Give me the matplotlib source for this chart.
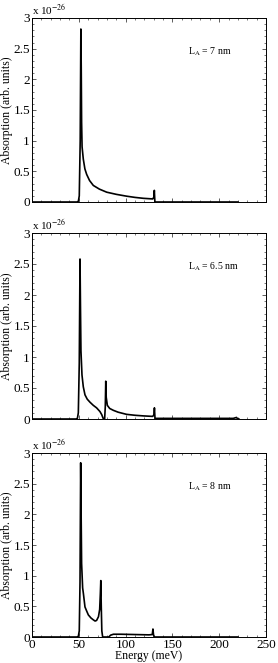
import matplotlib
matplotlib.use("Agg")
import matplotlib.pyplot as plt
from matplotlib.ticker import MultipleLocator

plt.rcParams["font.family"] = ["Liberation Serif", "DejaVu Serif"]
plt.rcParams["mathtext.fontset"] = "stix"

# absorption in units of 1e-26 (arb. units), energy in meV
e_7 = [0, 48, 49.5, 50.5, 51.5, 52.2, 52.6, 53.0, 53.5, 54.8, 56.5, 58.4, 61.5,
       65.5, 72, 79.8, 90, 101, 110, 119, 129, 130.2, 130.7, 131.3, 140, 220]
a_7 = [0, 0, 0.01, 0.1, 1.0, 2.82, 2.2, 1.3, 0.9, 0.7, 0.54, 0.45, 0.35,
       0.27, 0.21, 0.16, 0.125, 0.095, 0.075, 0.06, 0.05, 0.08, 0.19, 0.0, 0, 0]

e_65 = [0, 47, 48.5, 49.5, 50.5, 51.3, 51.8, 52.3, 53.4, 54.8, 56.6, 59, 62,
        65.5, 69, 72.6, 74.5, 75.5, 76.3, 77.6, 78.3, 78.8, 79.3, 80.5, 83, 86.9,
        92, 101, 110, 119, 129, 130.3, 130.8, 131.4, 135, 175, 215, 218.5, 219.5, 221]
a_65 = [0, 0, 0.01, 0.1, 0.9, 2.58, 1.8, 1.1, 0.71, 0.52, 0.39, 0.32, 0.27,
        0.22, 0.18, 0.12, 0.07, 0.03, 0.0, 0.0, 0.2, 0.61, 0.35, 0.22, 0.17, 0.14,
        0.11, 0.075, 0.06, 0.05, 0.042, 0.07, 0.18, 0.01, 0.01, 0.01, 0.01, 0.025, 0.005, 0]

e_8 = [0, 48, 49.5, 50.5, 51.3, 52.0, 52.5, 53.0, 54.1, 54.9, 56.6, 58.5, 60.2,
       63, 65.5, 67.4, 69, 71, 72.3, 73.0, 73.5, 74.0, 74.6, 75.5, 82, 84, 87,
       95, 110, 125, 128.5, 129.2, 129.8, 130.5, 220]
a_8 = [0, 0, 0.01, 0.1, 0.9, 2.84, 2.0, 1.2, 0.8, 0.71, 0.49, 0.42, 0.36,
       0.31, 0.28, 0.26, 0.27, 0.33, 0.45, 0.7, 0.92, 0.5, 0.1, 0.0, 0.0, 0.03, 0.045,
       0.045, 0.04, 0.035, 0.04, 0.13, 0.04, 0.0, 0]

panels = [(e_7, a_7, "7 nm"), (e_65, a_65, "6.5 nm"), (e_8, a_8, "8 nm")]
# axes boxes in pixels (top, bottom) on the 278x663 canvas
boxes_px = [(18, 202), (233, 419), (453, 637)]

fig = plt.figure(figsize=(2.78, 6.63), dpi=100)
W, H = 278, 663
for i, ((e, a, la), (top, bot)) in enumerate(zip(panels, boxes_px)):
    ax = fig.add_axes([32 / W, 1 - bot / H, 234 / W, (bot - top) / H])
    ax.plot(e, a, color="black", lw=1.2)
    ax.set_xlim(0, 250)
    ax.set_ylim(0, 3)
    ax.xaxis.set_major_locator(MultipleLocator(50))
    ax.xaxis.set_minor_locator(MultipleLocator(10))
    ax.yaxis.set_major_locator(MultipleLocator(0.5))
    ax.yaxis.set_minor_locator(MultipleLocator(0.1))
    ax.yaxis.set_major_formatter(plt.FuncFormatter(lambda v, p: f"{v:g}"))
    ax.tick_params(which="both", direction="in", top=True, right=True,
                   labelsize=9.5, pad=1.5, color="#444444")
    ax.tick_params(which="major", length=3, width=0.6)
    ax.tick_params(which="minor", length=1.5, width=0.5)
    for s in ax.spines.values():
        s.set_linewidth(0.7)
    ax.set_ylabel("Absorption (arb. units)", fontsize=8.5)
    ax.yaxis.set_label_coords(-0.082, 0.5)
    if i < 2:
        ax.set_xticklabels([])
    else:
        ax.set_xlabel("Energy (meV)", fontsize=8.5, labelpad=-1)
    ax.text(167, 2.45, r"L$_\mathrm{A}$ = " + la, fontsize=7, va="center", ha="left")
    ax.text(0, 1.005, r"x 10$^{-26}$", transform=ax.transAxes, fontsize=8,
            ha="left", va="bottom")

fig.savefig("out.png", dpi=100)
